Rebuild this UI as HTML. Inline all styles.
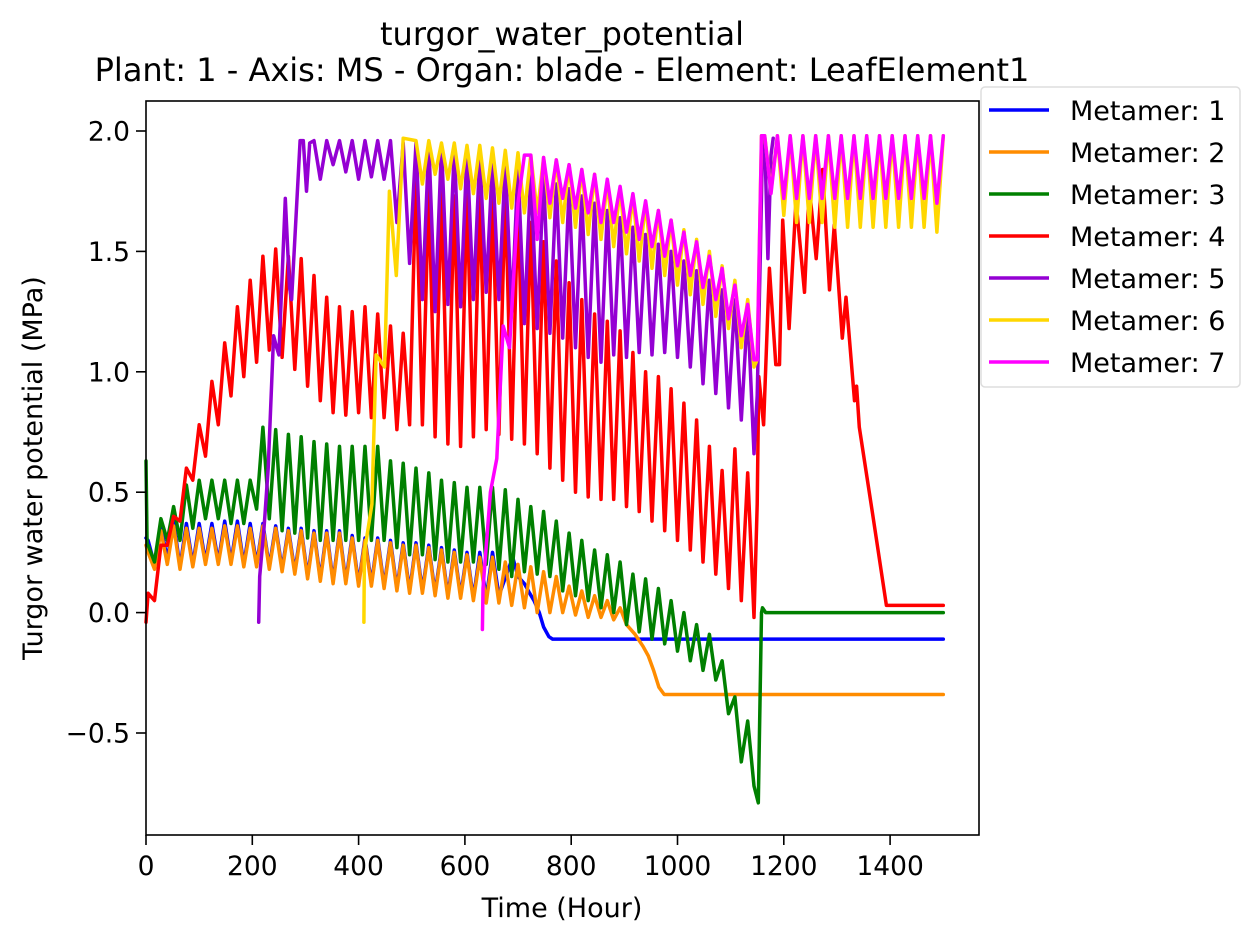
<!DOCTYPE html>
<html><head><meta charset="utf-8"><style>
html,body{margin:0;padding:0;background:#fff;}
svg{display:block;font-family:"DejaVu Sans","Liberation Sans",sans-serif;}
</style></head><body>
<svg id="chart" width="1260" height="943" viewBox="0 0 1260 943" xmlns="http://www.w3.org/2000/svg">
<rect width="1260" height="943" fill="#fff"/>
<g id="plot"></g>
<rect x="146" y="101" width="833" height="734" fill="none" stroke="#000" stroke-width="1.6"/>
<g id="axes"></g>
<text x="562" y="45" text-anchor="middle" font-size="32">turgor_water_potential</text>
<text x="562" y="81" text-anchor="middle" font-size="32">Plant: 1 - Axis: MS - Organ: blade - Element: LeafElement1</text>
<text x="562" y="917" text-anchor="middle" font-size="27">Time (Hour)</text>
<text transform="translate(42,468) rotate(-90)" text-anchor="middle" font-size="27">Turgor water potential (MPa)</text>
<g id="legend"></g>
</svg>
<script>
const xTicks=[0,200,400,600,800,1000,1200,1400];
const yTicks=[-0.5,0,0.5,1,1.5,2];
const yTickLabels=["\u22120.5","0.0","0.5","1.0","1.5","2.0"];
const seriesNames=["Metamer: 1","Metamer: 2","Metamer: 3","Metamer: 4","Metamer: 5","Metamer: 6","Metamer: 7"];
const seriesColors=["#0000ff","#ff8c00","#008000","#ff0000","#9400d3","#ffd700","#ff00ff"];

const m1Pre=[[0,0.31]];
const m1Start=4;
const m1Hi=[0.30,0.36,0.38,0.37,0.37,0.37,0.38,0.38,0.37,0.37,0.36,0.35,0.35,0.34,0.34,0.34,0.32,0.31,0.31,0.30,0.29,0.29,0.28,0.27,0.26,0.25,0.25,0.25];
const m1Lo=[0.20,0.22,0.19,0.20,0.21,0.21,0.21,0.20,0.20,0.19,0.18,0.17,0.15,0.14,0.13,0.13,0.12,0.12,0.11,0.10,0.09,0.09,0.08,0.07,0.07,0.06,0.06,0.07];
const m1Post=[[690,0.23],[700,0.15],[712,0.12],[722,0.08],[730,0.05],[740,0.0],[748,-0.06],[758,-0.1],[765,-0.11],[1500,-0.11]];

const m2Pre=[[0,0.28]];
const m2Start=4;
const m2Hi=[0.25,0.34,0.36,0.35,0.35,0.35,0.36,0.36,0.35,0.36,0.35,0.34,0.34,0.33,0.33,0.33,0.31,0.30,0.30,0.29,0.28,0.28,0.27,0.26,0.25,0.24,0.23,0.23,0.21,0.20,0.19,0.17,0.15,0.11,0.09,0.07,0.05,0.02];
const m2Lo=[0.18,0.20,0.18,0.19,0.20,0.20,0.20,0.19,0.19,0.18,0.17,0.16,0.14,0.13,0.12,0.12,0.11,0.11,0.10,0.09,0.08,0.08,0.07,0.06,0.06,0.05,0.04,0.04,0.03,0.02,0.0,0.0,0.0,-0.01,-0.02,-0.02,-0.03,-0.05];
const m2Post=[[920,-0.09],[935,-0.14],[945,-0.18],[955,-0.24],[965,-0.31],[975,-0.34],[1500,-0.34]];

const m3Pre=[[0,0.63],[2,0.28]];
const m3Start=4;
const m3Hi=[0.28,0.39,0.44,0.53,0.55,0.55,0.55,0.55,0.55,0.77,0.76,0.74,0.73,0.71,0.70,0.69,0.69,0.69,0.69,0.63,0.62,0.60,0.58,0.55,0.54,0.52,0.52,0.52,0.51,0.47,0.44,0.42,0.38,0.33,0.30,0.26,0.24,0.21,0.16,0.14,0.10,0.05,0.0,-0.05,-0.09,-0.2,-0.35,-0.45];
const m3Lo=[0.21,0.30,0.30,0.35,0.39,0.39,0.37,0.37,0.43,0.39,0.34,0.33,0.31,0.30,0.30,0.30,0.30,0.30,0.30,0.27,0.24,0.24,0.22,0.21,0.21,0.21,0.20,0.18,0.15,0.17,0.16,0.15,0.09,0.07,0.05,0.02,0.0,-0.05,-0.08,-0.11,-0.13,-0.16,-0.20,-0.24,-0.28,-0.42,-0.62,-0.72];
const m3Post=[[1152,-0.79],[1158,0.0],[1160,0.02],[1166,0.0],[1500,0.0]];

const m4Pre=[[0,-0.04]];
const m4Start=4;
const m4Hi=[0.08,0.28,0.40,0.60,0.78,0.96,1.12,1.27,1.38,1.48,1.51,1.48,1.47,1.40,1.31,1.27,1.25,1.27,1.24,1.19,1.16,1.82,1.76,1.75,1.73,1.74,1.73,1.73,1.76,1.71,1.62,1.54,1.46,1.37,1.30,1.24,1.21,1.17,1.08,1.00,0.98,0.93,0.87,0.80,0.69,0.59,0.68,0.58];
const m4Lo=[0.05,0.28,0.38,0.55,0.65,0.78,0.90,0.98,1.04,1.09,1.06,1.01,0.94,0.88,0.83,0.82,0.83,0.81,0.81,0.76,0.78,0.78,0.73,0.70,0.69,0.73,0.76,0.74,0.72,0.70,0.66,0.60,0.55,0.50,0.48,0.47,0.47,0.44,0.42,0.38,0.34,0.30,0.26,0.21,0.16,0.10,0.05,-0.02];
const m4Post=[[1150,0.45],[1153,0.98],[1162,0.78],[1173,1.43],[1185,1.03],[1192,1.03],[1198,1.63],[1210,1.18],[1223,1.71],[1239,1.33],[1248,1.77],[1261,1.47],[1273,1.84],[1286,1.34],[1295,1.61],[1310,1.14],[1317,1.31],[1333,0.88],[1337,0.94],[1342,0.77],[1367,0.41],[1393,0.03],[1500,0.03]];

const m5Pre=[[212,-0.04],[214,0.15],[222,0.35],[230,0.6],[240,1.15],[246,1.1],[250,1.07],[262,1.72],[270,1.35],[274,1.3],[290,1.96],[296,1.96],[302,1.75],[308,1.95]];
const m5Start=316;
const m5Hi=[1.96,1.96,1.96,1.96,1.96,1.96,1.96,1.95,1.95,1.95,1.94,1.93,1.92,1.90,1.88,1.87,1.85,1.83,1.81,1.78,1.76,1.73,1.70,1.67,1.64,1.60,1.57,1.53,1.50,1.46,1.42,1.38,1.34,1.30,1.26];
const m5Lo=[1.80,1.86,1.83,1.80,1.81,1.80,1.62,1.45,1.30,1.25,1.28,1.27,1.30,1.33,1.30,1.25,1.20,1.18,1.16,1.14,1.10,1.06,1.04,1.07,1.06,1.08,1.07,1.08,1.06,1.02,0.95,0.91,0.85,0.80,0.66];
const m5Post=[[1150,0.9],[1156,1.5],[1160,1.95],[1164,1.97],[1170,1.47],[1176,1.9],[1180,1.97]];

const m6Pre=[[410,-0.04],[411,0.25],[425,0.45],[433,1.07],[449,1.02],[458,1.75],[471,1.40],[484,1.97]];
const m6Start=508;
const m6Hi=[1.96,1.96,1.95,1.95,1.94,1.94,1.93,1.92,1.91,1.90,1.89,1.88,1.86,1.84,1.82,1.79,1.76,1.73,1.70,1.67,1.63,1.59,1.55,1.50,1.44,1.38,1.30];
const m6Lo=[1.78,1.82,1.80,1.76,1.74,1.72,1.70,1.68,1.66,1.66,1.64,1.62,1.60,1.57,1.55,1.52,1.49,1.46,1.43,1.40,1.36,1.32,1.28,1.23,1.18,1.10,1.02];
const m6Mid=[[1150,1.05],[1158,1.98]];
const m6Start2=1164;
const m6Hi2=[1.98,1.98,1.98,1.98,1.98,1.98,1.98,1.98,1.98,1.98,1.98,1.98,1.98,1.98];
const m6Lo2=[1.75,1.65,1.62,1.62,1.62,1.60,1.60,1.60,1.60,1.60,1.60,1.60,1.60,1.58];
const m6Post=[[1500,1.98]];

const m7Pre=[[633,-0.07],[634,0.1],[648,0.5],[660,0.64],[672,1.19],[684,1.1],[700,1.7],[712,1.9]];
const m7Start=724;
const m7Hi=[1.90,1.89,1.88,1.86,1.84,1.82,1.80,1.77,1.74,1.71,1.67,1.63,1.58,1.54,1.48,1.43,1.36,1.28];
const m7Lo=[1.55,1.70,1.72,1.68,1.66,1.62,1.62,1.58,1.55,1.52,1.48,1.44,1.40,1.35,1.30,1.22,1.15,1.05];
const m7Mid=[[1150,1.05],[1158,1.98]];
const m7Start2=1164;
const m7Hi2=[1.98,1.98,1.98,1.98,1.98,1.98,1.98,1.98,1.98,1.98,1.98,1.98,1.98,1.98];
const m7Lo2=[1.74,1.72,1.72,1.72,1.72,1.72,1.72,1.72,1.72,1.72,1.72,1.72,1.72,1.70];
const m7Post=[[1500,1.98]];

const NS="http://www.w3.org/2000/svg";
const X0=146,PXH=0.5315,Y0=612.6,PXV=240.8;
function X(t){return X0+t*PXH;}
function Y(v){return Y0-v*PXV;}
function cyc(start,hi,lo){const o=[];for(let i=0;i<hi.length;i++){o.push([start+24*i,hi[i]]);if(i<lo.length)o.push([start+24*i+12,lo[i]]);}return o;}

const seriesPts=[
 m1Pre.concat(cyc(m1Start,m1Hi,m1Lo),m1Post),
 m2Pre.concat(cyc(m2Start,m2Hi,m2Lo),m2Post),
 m3Pre.concat(cyc(m3Start,m3Hi,m3Lo),m3Post),
 m4Pre.concat(cyc(m4Start,m4Hi,m4Lo),m4Post),
 m5Pre.concat(cyc(m5Start,m5Hi,m5Lo),m5Post),
 m6Pre.concat(cyc(m6Start,m6Hi,m6Lo),m6Mid,cyc(m6Start2,m6Hi2,m6Lo2),m6Post),
 m7Pre.concat(cyc(m7Start,m7Hi,m7Lo),m7Mid,cyc(m7Start2,m7Hi2,m7Lo2),m7Post)
];

const plot=document.getElementById('plot');
seriesPts.forEach((pts,k)=>{
 const p=document.createElementNS(NS,'polyline');
 p.setAttribute('points',pts.map(q=>X(q[0]).toFixed(1)+','+Y(q[1]).toFixed(1)).join(' '));
 p.setAttribute('fill','none');p.setAttribute('stroke',seriesColors[k]);
 p.setAttribute('stroke-width','3.5');p.setAttribute('stroke-linejoin','round');p.setAttribute('stroke-linecap','round');
 
 
 plot.appendChild(p);
});

const axes=document.getElementById('axes');
xTicks.forEach(t=>{
 const l=document.createElementNS(NS,'line');
 l.setAttribute('x1',X(t));l.setAttribute('x2',X(t));l.setAttribute('y1',835);l.setAttribute('y2',845);
 l.setAttribute('stroke','#000');l.setAttribute('stroke-width','1.6');
 
 
 axes.appendChild(l);
 const tx=document.createElementNS(NS,'text');
 tx.setAttribute('x',X(t));tx.setAttribute('y',875);tx.setAttribute('text-anchor','middle');tx.setAttribute('font-size','26.5');
 tx.textContent=String(t);
 
 
 axes.appendChild(tx);
});
yTicks.forEach((v,i)=>{
 const l=document.createElementNS(NS,'line');
 l.setAttribute('x1',136);l.setAttribute('x2',146);l.setAttribute('y1',Y(v));l.setAttribute('y2',Y(v));
 l.setAttribute('stroke','#000');l.setAttribute('stroke-width','1.6');
 
 
 axes.appendChild(l);
 const tx=document.createElementNS(NS,'text');
 tx.setAttribute('x',130);tx.setAttribute('y',Y(v)+9.5);tx.setAttribute('text-anchor','end');tx.setAttribute('font-size','26.5');
 tx.textContent=yTickLabels[i];
 
 
 axes.appendChild(tx);
});

const lg=document.getElementById('legend');
const box=document.createElementNS(NS,'rect');
box.setAttribute('x',981);box.setAttribute('y',87);box.setAttribute('width',259);box.setAttribute('height',300);
box.setAttribute('rx',4);box.setAttribute('fill','#fff');box.setAttribute('fill-opacity','0.8');box.setAttribute('stroke','#ddd');box.setAttribute('stroke-width','1.5');


lg.appendChild(box);
seriesNames.forEach((n,k)=>{
 const y=110+42*k;
 const l=document.createElementNS(NS,'line');
 l.setAttribute('x1',989);l.setAttribute('x2',1049);l.setAttribute('y1',y);l.setAttribute('y2',y);
 l.setAttribute('stroke',seriesColors[k]);l.setAttribute('stroke-width','3.5');
 
 
 lg.appendChild(l);
 const tx=document.createElementNS(NS,'text');
 tx.setAttribute('x',1070);tx.setAttribute('y',y+10);tx.setAttribute('font-size','27');
 tx.textContent=n;
 
 
 lg.appendChild(tx);
});
</script>
</body></html>
